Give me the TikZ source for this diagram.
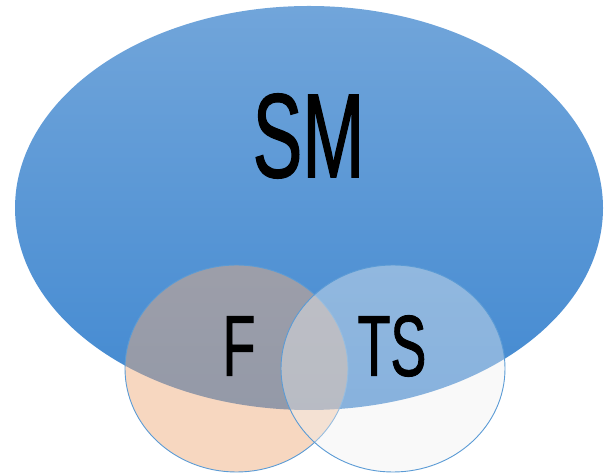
\documentclass[tikz,border=0pt]{standalone}
\usepackage{fontspec}
\usetikzlibrary{shapes.geometric}
\newfontfamily\condfont[FakeStretch=0.62, FakeBold=1]{Liberation Sans}
\definecolor{smtop}{RGB}{113,165,218}
\definecolor{smbot}{RGB}{66,137,209}
\definecolor{ringblue}{RGB}{91,155,213}
\definecolor{peach}{RGB}{238,172,124}
\definecolor{paleset}{RGB}{240,240,240}
\tikzset{
  setshape/.style={ellipse, inner sep=0pt, draw=ringblue, line width=0.9pt},
  setlabel/.style={inner sep=0pt, text=black, font=\condfont},
}
\begin{document}
\begin{tikzpicture}[x=1pt, y=1pt]
  \useasboundingbox (0,0) rectangle (607,473);
  % large set
  \node[ellipse, inner sep=0pt, minimum width=588pt, minimum height=404pt,
        top color=smtop, bottom color=smbot, shading angle=0] (sm) at (309,265) {};
  % two smaller overlapping sets
  \node[setshape, minimum width=223pt, minimum height=207pt,
        fill=peach, fill opacity=0.48] (f) at (236.5,104.5) {};
  \node[setshape, minimum width=224pt, minimum height=207pt,
        fill=paleset, fill opacity=0.4] (ts) at (393,104.5) {};
  % labels
  \node[setlabel, font=\condfont\fontsize{120}{120}\selectfont] (smlabel) at (308.5,337) {SM};
  \node[setlabel, font=\condfont\fontsize{86.6}{86.6}\selectfont] (flabel) at (239,127) {F};
  \node[setlabel, font=\condfont\fontsize{86.6}{86.6}\selectfont] (tslabel) at (392,127) {TS};
\end{tikzpicture}
\end{document}
